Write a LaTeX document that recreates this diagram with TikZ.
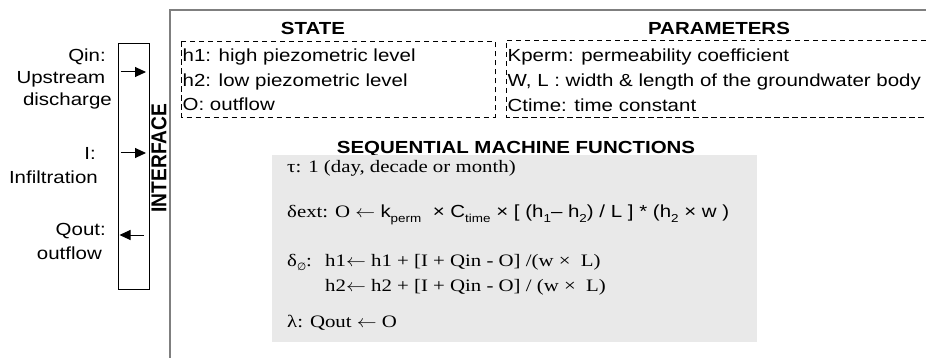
\documentclass[tikz,border=0pt]{standalone}
\usepackage{fontspec}
\setmainfont{Liberation Sans}[FakeStretch=1.17]
\newfontfamily\serifx{Liberation Serif}[FakeStretch=1.19]
\newfontfamily\plainsans{Liberation Sans}
\newfontfamily\dejavu{DejaVu Sans}
\usetikzlibrary{arrows.meta}
\definecolor{panelgray}{HTML}{E9E9E9}
\definecolor{framegray}{HTML}{7F7F7F}
\newcommand\lsub[1]{\raisebox{-0.45ex}{\fontsize{11.5}{11.5}\selectfont #1}}
\newcommand\larr{\scalebox{1.15}[1]{$\leftarrow$}}
\begin{document}
\begin{tikzpicture}[x=1pt,y=-1pt,
  txt/.style={inner sep=0pt, anchor=base west, font=\fontsize{17.5}{21}\selectfont},
  lbl/.style={inner sep=0pt, anchor=base east, font=\fontsize{17.5}{21}\selectfont},
  ttl/.style={inner sep=0pt, anchor=base, font=\fontsize{17.5}{21}\selectfont\bfseries},
  fn/.style={inner sep=0pt, anchor=base west, font=\serifx\fontsize{17.5}{21}\selectfont},
  dbox/.style={draw, dash pattern=on 5.5pt off 3.5pt, line width=0.9pt},
  flow/.style={line width=1pt, -{Triangle[length=11pt,width=10pt]}}]
\useasboundingbox (0,0) rectangle (926,358);
% main frame
\draw[framegray, line width=1.5pt] (170,358) -- (170,10) -- (926,10);
% interface box
\node[draw, line width=1pt, inner sep=0pt, minimum width=31pt, minimum height=246pt, anchor=north west] (iface) at (118,43) {};
\node[rotate=90, inner sep=0pt] (ifacelbl) at (159,158) {\scalebox{1}[1.12]{\plainsans\fontsize{19.2}{19.2}\selectfont\bfseries INTERFACE}};
% arrows
\coordinate (qinA) at (120.5,72); \coordinate (qinB) at (146,72);
\coordinate (iA) at (120.5,153); \coordinate (iB) at (146,153);
\coordinate (qoA) at (144,235); \coordinate (qoB) at (119.5,235);
\draw[flow] (qinA) -- (qinB);
\draw[flow] (iA) -- (iB);
\draw[flow] (qoA) -- (qoB);
% left labels
\node[lbl] (qin1) at (106,61.5) {Qin:};
\node[lbl] (qin2) at (105.5,84) {Upstream};
\node[lbl] (qin3) at (112,106) {discharge};
\node[lbl] (i1) at (96,160) {I:};
\node[lbl] (i2) at (98,184) {Infiltration};
\node[lbl] (qo1) at (106,235) {Qout:};
\node[lbl] (qo2) at (102,259) {outflow};
% state
\node[ttl] (stt) at (313,35) {STATE};
\draw[dbox] (181,41.5) rectangle (495,117);
\node[txt] (s1) at (182.5,62) {h1: high piezometric level};
\node[txt] (s2) at (182.5,86.5) {h2: low piezometric level};
\node[txt] (s3) at (182.5,111) {O: outflow};
% parameters
\node[ttl] (ptt) at (719,35) {PARAMETERS};
\draw[dbox] (926,40) -- (506,40) -- (506,117) -- (926,117);
\node[txt] (p1) at (507.5,61.5) {Kperm: permeability coefficient};
\node[txt] (p2) at (507.5,86.5) {W, L : width \& length of the groundwater body};
\node[txt] (p3) at (507.5,111.5) {Ctime: time constant};
% sequential machine functions
\node[ttl] (ftt) at (516,154) {SEQUENTIAL MACHINE FUNCTIONS};
\node[fill=panelgray, inner sep=0pt, minimum width=485pt, minimum height=187pt, anchor=north west] (funcs) at (272,155) {};
\node[fn] (f1) at (287,173) {τ: 1 (day, decade or month)};
\node[fn] (f2) at (287,218) {δext: O \larr\ {\rmfamily k\lsub{perm}\ \ × C\lsub{time} × [ (h\lsub{1}– h\lsub{2}) / L ] * (h\lsub{2} × w )}};
\node[fn] (f3a) at (287,266) {δ\raisebox{-0.5ex}{\dejavu\fontsize{10.5}{10.5}\selectfont ∅}:};
\node[fn] (f3b) at (325,266) {h1\larr\ h1 + [I + Qin - O] /(w ×\ \ L)};
\node[fn] (f4) at (325,291) {h2\larr\ h2 + [I + Qin - O] / (w ×\ \ L)};
\node[fn] (f5) at (287,327) {λ: Qout \larr\ O};
\end{tikzpicture}
\end{document}
